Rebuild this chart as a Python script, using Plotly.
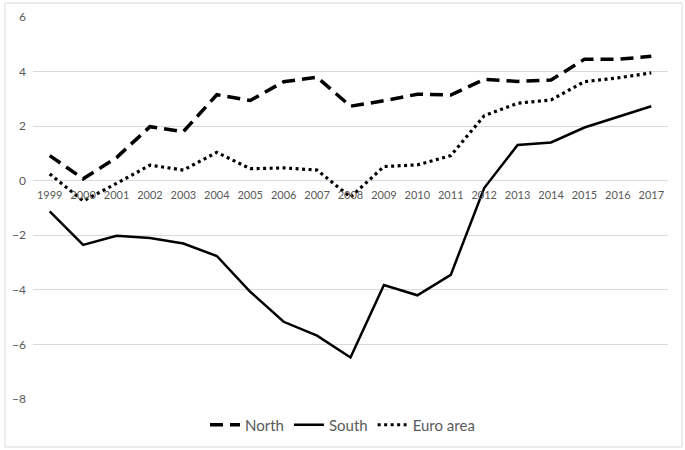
import plotly.graph_objects as go

years = [str(y) for y in range(1999, 2018)]
north = [0.92, 0.07, 0.85, 1.98, 1.8, 3.15, 2.94, 3.63, 3.79, 2.73, 2.93, 3.17, 3.14, 3.71, 3.64, 3.69, 4.45, 4.45, 4.56]
south = [-1.12, -2.35, -2.02, -2.1, -2.3, -2.76, -4.07, -5.17, -5.68, -6.48, -3.82, -4.2, -3.45, -0.27, 1.31, 1.4, 1.95, 2.35, 2.73]
euro = [0.25, -0.74, -0.1, 0.57, 0.39, 1.04, 0.44, 0.47, 0.39, -0.6, 0.52, 0.58, 0.92, 2.38, 2.84, 2.96, 3.63, 3.77, 3.95]

FONT = "Lato, 'Open Sans', sans-serif"
GREY = "#595959"

fig = go.Figure()
fig.add_trace(go.Scatter(x=years, y=north, name="North", mode="lines",
                         line=dict(color="black", width=3.5, dash="13px,7px")))
fig.add_trace(go.Scatter(x=years, y=south, name="South", mode="lines",
                         line=dict(color="black", width=2.5)))
fig.add_trace(go.Scatter(x=years, y=euro, name="Euro area", mode="lines",
                         line=dict(color="black", width=3.2, dash="3px,3.5px")))

fig.update_layout(
    width=685, height=450,
    margin=dict(l=33, r=17, t=17, b=51),
    paper_bgcolor="white", plot_bgcolor="white",
    font=dict(family=FONT, color=GREY),
    showlegend=True,
    legend=dict(orientation="h", x=0.5, xanchor="center", xref="container",
                y=1 - 425 / 450, yanchor="middle", yref="container",
                font=dict(size=15, color=GREY, family=FONT)),
    xaxis=dict(type="category", range=[-0.5, 18.5], showgrid=False, showline=False,
               ticks="", tickfont=dict(size=11, color=GREY), anchor="free",
               position=8 / 14, tickangle=0, fixedrange=True, automargin=False,
               ticklabelstandoff=6),
    yaxis=dict(range=[-8, 6], dtick=2, tick0=0, showgrid=True, gridcolor="#d9d9d9",
               gridwidth=1, zeroline=True, zerolinecolor="#d9d9d9", zerolinewidth=1,
               showline=False, ticks="", tickfont=dict(size=12, color=GREY),
               ticklabelstandoff=6, domain=[0, 1], automargin=False),
    shapes=[dict(type="rect", xref="paper", yref="paper",
                 x0=(5 - 33) / 635, x1=(682 - 33) / 635,
                 y0=(399 - 447) / 382, y1=(399 - 3) / 382,
                 line=dict(color="#d9d9d9", width=1), layer="below")],
)

fig.write_html("out.html", config={"displayModeBar": False},
               post_script="document.body.style.margin='0';document.body.style.overflow='hidden';")
